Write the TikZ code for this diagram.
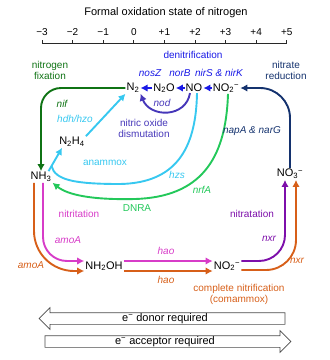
\documentclass[tikz,border=0pt]{standalone}
\usepackage{fontspec}
\setmainfont{Liberation Sans}
\usepackage{xcolor}
\usepackage{tikz}
\usetikzlibrary{arrows.meta, calc, shapes.arrows}
\definecolor{AxisGray}{RGB}{40, 40, 40}
\definecolor{ArrowGray}{RGB}{75, 75, 75}
\definecolor{DenitBlue}{RGB}{25, 25, 230}
\definecolor{NodPurple}{RGB}{70, 55, 185}
\definecolor{FixGreen}{RGB}{15, 115, 20}
\definecolor{AnamCyan}{RGB}{55, 200, 240}
\definecolor{DnraGreen}{RGB}{35, 200, 90}
\definecolor{RedBlue}{RGB}{20, 50, 110}
\definecolor{NitriPink}{RGB}{215, 60, 200}
\definecolor{ComaOrange}{RGB}{215, 95, 25}
\definecolor{NitraPurple}{RGB}{125, 15, 170}
\newcommand{\chemfont}{\fontsize{11}{12.5}\selectfont}
\newcommand{\lblfont}{\fontsize{10}{11}\selectfont}
\tikzset{
  chem/.style={inner sep=1pt, font=\chemfont},
  lbl/.style={inner sep=0.5pt, align=center, font=\lblfont},
  enz/.style={inner sep=0.5pt, font=\lblfont\itshape},
  flow/.style={line width=1.9pt, -{Latex[length=7pt, width=7.5pt]}},
  bigarrow/.style={
    single arrow,
    draw=ArrowGray,
    fill=white,
    line width=0.7pt,
    minimum height=246pt,
    single arrow head extend=5pt,
    text height=7.5pt,
    text depth=2pt,
    inner ysep=0.75pt,
    font=\chemfont
  }
}

\begin{document}
\begin{tikzpicture}[x=1pt, y=-1pt]
  \useasboundingbox (0,0) rectangle (330,360);
  % oxidation state axis
  \node[lbl, font=\chemfont] (title) at (166,13) {Formal oxidation state of nitrogen};
  \draw[AxisGray, line width=0.8pt] (42,43) -- (287,43);
  \foreach \lab [count=\i from 0] in {−3,−2,−1,0,+1,+2,+3,+4,+5} {
    \draw[AxisGray, line width=0.8pt] (42+30.6*\i,43) -- ++(0,-3.5);
    \node[lbl] (tick\i) at (42+30.6*\i,32) {\lab};
  }

  % species
  \node[chem] (N2)    at (133,88)  {N\textsubscript{2}};
  \node[chem] (N2O)   at (164,88)  {N\textsubscript{2}O};
  \node[chem] (NO)    at (194,88)  {NO};
  \node[chem] (NO2t)  at (226,88)  {NO\textsubscript{2}\textsuperscript{−}};
  \node[chem] (NO3)   at (290,174) {NO\textsubscript{3}\textsuperscript{−}};
  \node[chem] (NH3)   at (41,177)  {NH\textsubscript{3}};
  \node[chem] (N2H4)  at (72,142)  {N\textsubscript{2}H\textsubscript{4}};
  \node[chem] (NH2OH) at (104,266) {NH\textsubscript{2}OH};
  \node[chem] (NO2b)  at (227,266) {NO\textsubscript{2}\textsuperscript{−}};

  % denitrification
  \node[lbl, text=DenitBlue] (denit) at (193,55) {denitrification};
  \node[enz, text=DenitBlue] (nosZ) at (150,73) {nosZ};
  \node[enz, text=DenitBlue] (norB) at (180,73) {norB};
  \node[enz, text=DenitBlue] (nirSK) at (219,73) {nirS \& nirK};
  \draw[flow, DenitBlue] (NO2t.west) -- (NO.east);
  \draw[flow, DenitBlue] (NO.west) -- (N2O.east);
  \draw[flow, DenitBlue] (N2O.west) -- (N2.east);

  % nitric oxide dismutation
  \node[enz, text=NodPurple] (nod) at (162,103) {nod};
  \node[lbl, text=NodPurple] (dismut) at (144,128) {nitric oxide\\dismutation};
  \draw[flow, NodPurple] ([xshift=-4pt]NO.south) .. controls (186,118) and (150,118) .. (N2.south east);

  % nitrogen fixation
  \node[lbl, text=FixGreen] (fixation) at (50,70) {nitrogen\\fixation};
  \node[enz, text=FixGreen] (nif) at (62,104) {nif};
  \draw[flow, FixGreen, rounded corners=20pt] (N2.west) -| (NH3.north);

  % anammox
  \node[enz, text=AnamCyan] (hzs) at (177,175) {hzs};
  \node[enz, text=AnamCyan] (hdh) at (75,119) {hdh/hzo};
  \node[lbl, text=AnamCyan] (anammox) at (105,163) {anammox};
  \draw[flow, AnamCyan] ([xshift=-4pt]NH3.north east) -- ([xshift=4pt]N2H4.south west);
  \draw[flow, AnamCyan] (N2H4.north east) -- (N2.south west);
  \coordinate (join) at ($([xshift=-4pt]NH3.north east)!0.22!([xshift=4pt]N2H4.south west)$);
  \draw[AnamCyan, line width=1.9pt] ([xshift=3pt]NO.south) .. controls (196,150) and (175,183) .. (120,184)
    .. controls (74,184) and (55,180) .. (join);

  % DNRA
  \node[enz, text=DnraGreen] (nrfA) at (202,190) {nrfA};
  \node[lbl, text=DnraGreen] (dnra) at (137,208) {DNRA};
  \draw[flow, DnraGreen] ([xshift=2pt]NO2t.south) .. controls (226,160) and (200,197) .. (135,199)
    .. controls (92,200) and (68,195) .. (NH3.south east);

  % nitrate reduction
  \node[lbl, text=RedBlue] (nitred) at (286,70) {nitrate\\reduction};
  \node[enz, text=RedBlue] (napA) at (252,131) {napA \& narG};
  \draw[flow, RedBlue, rounded corners=30pt] (NO3.north) |- (NO2t.east);

  % nitritation
  \node[lbl, text=NitriPink] (nitritation) at (79,214) {nitritation};
  \node[enz, text=NitriPink] (amoAp) at (68,240) {amoA};
  \node[enz, text=NitriPink] (haop) at (166,251) {hao};
  \draw[flow, NitriPink, rounded corners=24pt] ([xshift=2pt]NH3.south) |- ([yshift=5pt]NH2OH.west);
  \draw[flow, NitriPink] ([yshift=5pt]NH2OH.east) -- ([yshift=5pt]NO2b.west);

  % comammox
  \node[enz, text=ComaOrange] (amoAo) at (31,265) {amoA};
  \node[enz, text=ComaOrange] (haoo) at (166,280) {hao};
  \node[enz, text=ComaOrange] (nxro) at (297,261) {nxr};
  \node[lbl, text=ComaOrange] (comammox) at (239,294) {complete nitrification\\(comammox)};
  \draw[flow, ComaOrange, rounded corners=40pt] ([xshift=-7pt]NH3.south) |- ([yshift=-5pt]NH2OH.west);
  \draw[flow, ComaOrange] ([yshift=-5pt]NH2OH.east) -- ([yshift=-5pt]NO2b.west);
  \draw[flow, ComaOrange, rounded corners=30pt] ([yshift=-4pt]NO2b.east) -| ([xshift=6pt]NO3.south);

  % nitratation
  \node[lbl, text=NitraPurple] (nitratation) at (252,214) {nitratation};
  \node[enz, text=NitraPurple] (nxrp) at (269,239) {nxr};
  \draw[flow, NitraPurple, rounded corners=26pt] ([yshift=5pt]NO2b.east) -| ([xshift=-5pt]NO3.south);

  % electron balance
  \node[bigarrow, shape border rotate=180] (donor) at (165,318.5) {e\textsuperscript{−} donor required};
  \node[bigarrow] (acceptor) at (165,341.5) {e\textsuperscript{−} acceptor required};
\end{tikzpicture}
\end{document}
